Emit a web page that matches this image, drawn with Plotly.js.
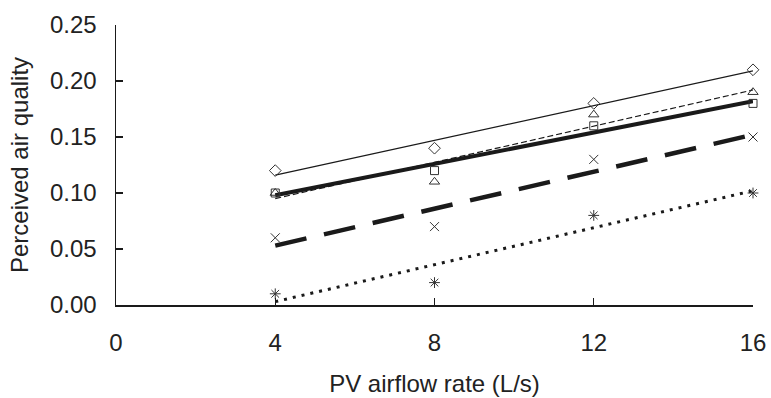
<!DOCTYPE html>
<html>
<head>
<meta charset="utf-8">
<script src="https://cdn.plot.ly/plotly-3.0.1.min.js"></script>
<style>html,body{margin:0;padding:0;background:#fff;}#chart{width:771px;height:398px;}</style>
</head>
<body>
<div id="chart"></div>
<script>
// Data
const airflow = [4, 8, 12, 16];
const seriesDiamond = [0.12, 0.14, 0.18, 0.21];
const seriesSquare = [0.10, 0.12, 0.16, 0.18];
const seriesTriangle = [0.10, 0.11, 0.17, 0.19];
const seriesCross = [0.06, 0.07, 0.13, 0.15];
const seriesStar = [0.01, 0.02, 0.08, 0.10];
// Trend line end points (at x = 4 and x = 16)
const trendX = [4, 16];
const trendDiamond = [0.116, 0.209];
const trendSquare = [0.098, 0.182];
const trendTriangle = [0.095, 0.192];
const trendCross = [0.053, 0.152];
const trendStar = [0.003, 0.102];
const xTicks = [0, 4, 8, 12, 16];
const yTicks = [0, 0.05, 0.10, 0.15, 0.20, 0.25];
const yTickText = ['0.00', '0.05', '0.10', '0.15', '0.20', '0.25'];

const ink = '#1a1a1a';
function line(y, width, dash) {
  return {x: trendX, y: y, mode: 'lines', type: 'scatter', hoverinfo: 'skip', cliponaxis: false,
    line: {color: ink, width: width, dash: dash}};
}
function pts(y, symbol, size) {
  return {x: airflow, y: y, mode: 'markers', type: 'scatter', cliponaxis: false,
    marker: {symbol: symbol, size: size, color: '#333', line: {color: '#333', width: 1}}};
}
const traces = [
  line(trendDiamond, 1.2, 'solid'),
  line(trendSquare, 4, 'solid'),
  line(trendTriangle, 1.2, '6px,3px'),
  line(trendCross, 4.5, '32px,18px'),
  line(trendStar, 3, '3px,6px'),
  pts(seriesDiamond, 'diamond-open', 9),
  pts(seriesSquare, 'square-open', 8),
  pts(seriesTriangle, 'triangle-up-open', 9),
  pts(seriesCross, 'x-thin-open', 9),
  pts(seriesStar, 'asterisk-open', 9)
];
const layout = {
  width: 771, height: 398,
  margin: {l: 116, r: 18, t: 25, b: 93},
  showlegend: false,
  paper_bgcolor: '#fff', plot_bgcolor: '#fff',
  font: {family: 'Liberation Sans, Arial, sans-serif', color: '#222', size: 24},
  xaxis: {
    range: [0, 16], tickvals: xTicks, ticktext: xTicks.map(String),
    ticks: 'inside', ticklen: 7, tickwidth: 1.2, tickcolor: ink,
    showline: true, linecolor: ink, linewidth: 1.5, showgrid: false, zeroline: false,
    tickfont: {size: 24}, ticklabelstandoff: 16,
    title: {text: 'PV airflow rate (L/s)', font: {size: 24}, standoff: 20}
  },
  yaxis: {
    range: [0, 0.25], tickvals: yTicks, ticktext: yTickText,
    ticks: 'inside', ticklen: 7, tickwidth: 1.2, tickcolor: ink,
    showline: true, linecolor: ink, linewidth: 1.5, showgrid: false, zeroline: false,
    tickfont: {size: 24}, ticklabelstandoff: 13,
    title: {text: 'Perceived air quality', font: {size: 24}, standoff: 14}
  }
};
Plotly.newPlot('chart', traces, layout, {displayModeBar: false, staticPlot: true});
</script>
</body>
</html>
